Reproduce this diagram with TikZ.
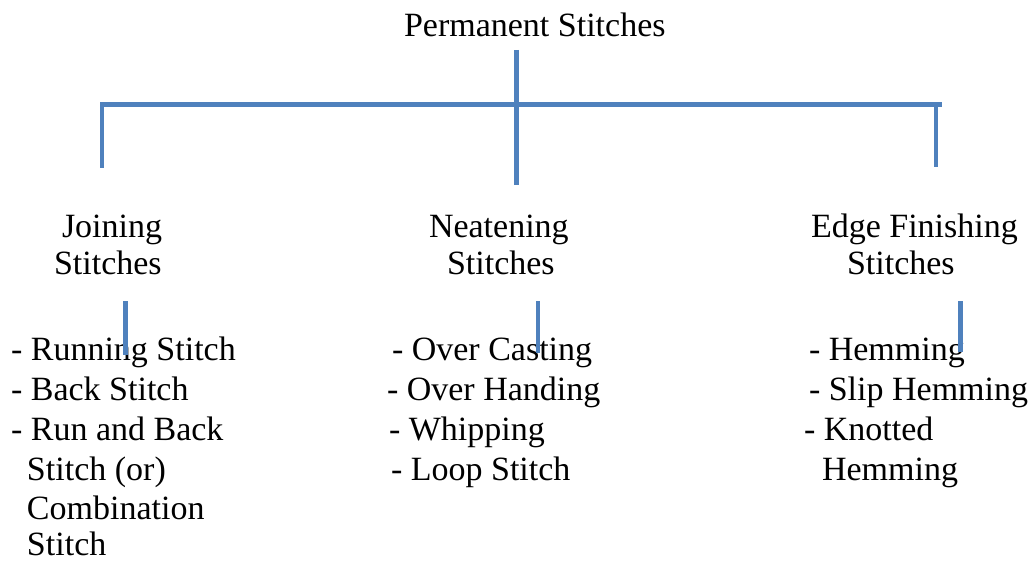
\documentclass[tikz,border=0pt]{standalone}
\usepackage{fontspec}
\setmainfont{Liberation Serif}
\definecolor{lineblue}{HTML}{4F81BD}
\begin{document}
\begin{tikzpicture}[x=1pt,y=-1pt,
  lbl/.style={anchor=base west,inner sep=0pt,outer sep=0pt,font=\fontsize{34}{40}\selectfont},
  conn/.style={draw=lineblue,line width=4.6pt}]
\useasboundingbox (0,0) rectangle (1035,561);
% titles
\node[lbl] (root) at (404,37) {Permanent Stitches};
\node[lbl] (j1) at (62,237) {Joining};
\node[lbl] (j2) at (54,274) {Stitches};
\node[lbl] (n1) at (429,237) {Neatening};
\node[lbl] (n2) at (447,274) {Stitches};
\node[lbl] (e1) at (811,237) {Edge Finishing};
\node[lbl] (e2) at (847,274) {Stitches};
% left list
\node[lbl] (l1) at (11,360) {- Running Stitch};
\node[lbl] (l2) at (11,400) {- Back Stitch};
\node[lbl] (l3) at (11,440) {- Run and Back};
\node[lbl] (l4) at (27,480) {Stitch (or)};
\node[lbl] (l5) at (27,519) {Combination};
\node[lbl,text depth=0pt] (l6) at (27,555) {Stitch};
% middle list
\node[lbl] (m1) at (392,360) {- Over Casting};
\node[lbl] (m2) at (387,400) {- Over Handing};
\node[lbl] (m3) at (389,440) {- Whipping};
\node[lbl] (m4) at (391,480) {- Loop Stitch};
% right list
\node[lbl] (r1) at (809,360) {- Hemming};
\node[lbl] (r2) at (809,400) {- Slip Hemming};
\node[lbl] (r3) at (804,440) {- Knotted};
\node[lbl] (r4) at (822,480) {Hemming};
% connector points
\coordinate (ctop) at (516.5,50);
\coordinate (cbot) at (516.5,185);
\coordinate (hl) at (100,104.5);
\coordinate (hr) at (942,104.5);
\coordinate (lt) at (102,104.5);
\coordinate (lb) at (102,168);
\coordinate (rt) at (936,104.5);
\coordinate (rb) at (936,167);
\coordinate (jt) at (125.5,301);
\coordinate (jb) at (125.5,355);
\coordinate (nt) at (538,301);
\coordinate (nb) at (538,353);
\coordinate (et) at (960.5,301);
\coordinate (eb) at (960.5,352);
\draw[conn] (hl) -- (hr);
\draw[conn] (ctop) -- (cbot);
\draw[conn] (lt) -- (lb);
\draw[conn] (rt) -- (rb);
\draw[conn] (jt) -- (jb);
\draw[conn] (nt) -- (nb);
\draw[conn] (et) -- (eb);
\end{tikzpicture}
\end{document}
